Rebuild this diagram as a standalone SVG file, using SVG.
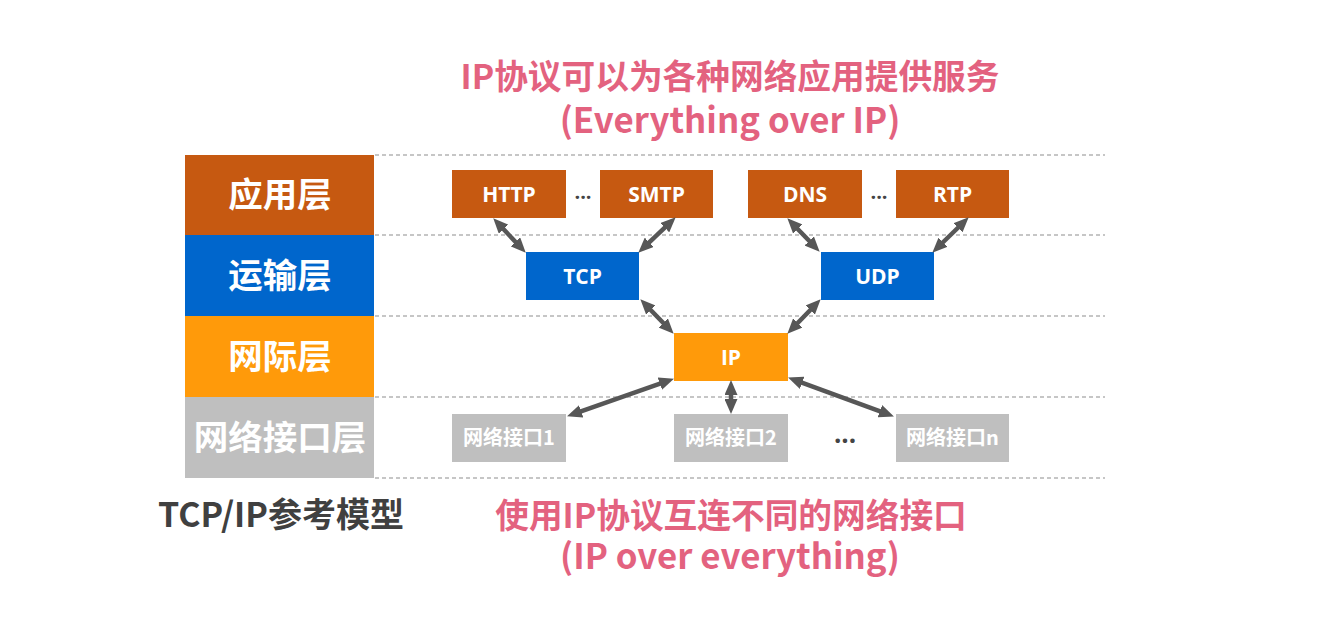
<svg xmlns="http://www.w3.org/2000/svg" width="1340" height="629" viewBox="0 0 1340 629">
<style>
.cjk{font-family:"Noto Sans CJK SC","Noto Sans",sans-serif;font-weight:bold}
.lat{font-family:"Open Sans","Noto Sans",sans-serif;font-weight:bold}
.layer{font-size:34.5px;fill:#fff;text-anchor:middle}
.title{font-size:33.7px;fill:#E3627F;text-anchor:middle}
.sub{font-size:34.8px}
.box{font-size:21px;fill:#fff;text-anchor:middle}
.nif{font-size:20px;fill:#fff;text-anchor:middle}
.dash{stroke:#b4b4b4;stroke-width:1.3;stroke-dasharray:4 3;fill:none}
.arr{stroke:#575757;stroke-width:4.5;fill:none;marker-start:url(#ah);marker-end:url(#ah)}
.dots{font-size:20px;fill:#444;text-anchor:middle}
</style>
<defs>
<marker id="ah" viewBox="0 0 15 13" refX="4" refY="6.5" markerWidth="15" markerHeight="13" markerUnits="userSpaceOnUse" orient="auto-start-reverse">
<path d="M0,0 L15,6.5 L0,13 z" fill="#575757"/>
</marker>
</defs>
<rect width="1340" height="629" fill="#fff"/>

<g id="guides">
<line class="dash" x1="375" y1="155" x2="1105" y2="155"/>
<line class="dash" x1="375" y1="235" x2="1105" y2="235"/>
<line class="dash" x1="375" y1="316" x2="1105" y2="316"/>
<line class="dash" x1="375" y1="397" x2="1105" y2="397"/>
<line class="dash" x1="375" y1="478" x2="1105" y2="478"/>
</g>

<g id="layer-app"><rect x="185" y="155" width="189" height="80" fill="#C65911"/><text class="cjk layer" x="280" y="207">应用层</text></g>
<g id="layer-transport"><rect x="185" y="235" width="189" height="81" fill="#0066CC"/><text class="cjk layer" x="280" y="288">运输层</text></g>
<g id="layer-internet"><rect x="185" y="316" width="189" height="81" fill="#FF9A0A"/><text class="cjk layer" x="280" y="369">网际层</text></g>
<g id="layer-link"><rect x="185" y="397" width="189" height="81" fill="#BFBFBF"/><text class="cjk layer" x="280" y="450">网络接口层</text></g>

<g id="title-top">
<text class="cjk title" x="730" y="89">IP协议可以为各种网络应用提供服务</text>
<text class="cjk title sub" x="730" y="133">(Everything over IP)</text>
</g>

<g id="http"><rect x="452" y="170" width="114" height="48" fill="#C65911"/><text class="lat box" x="509" y="202">HTTP</text></g>
<text class="lat dots" x="583" y="199">...</text>
<g id="smtp"><rect x="600" y="170" width="113" height="48" fill="#C65911"/><text class="lat box" x="656.5" y="202">SMTP</text></g>
<g id="dns"><rect x="748" y="170" width="114" height="48" fill="#C65911"/><text class="lat box" x="805" y="202">DNS</text></g>
<text class="lat dots" x="879" y="199">...</text>
<g id="rtp"><rect x="896" y="170" width="113" height="48" fill="#C65911"/><text class="lat box" x="952.5" y="202">RTP</text></g>

<g id="tcp"><rect x="526" y="252" width="113" height="48" fill="#0066CC"/><text class="lat box" x="582.5" y="284">TCP</text></g>
<g id="udp"><rect x="821" y="252" width="113" height="48" fill="#0066CC"/><text class="lat box" x="877.5" y="284">UDP</text></g>

<g id="ip"><rect x="674" y="333" width="114" height="48" fill="#FF9A0A"/><text class="lat box" x="731" y="365">IP</text></g>

<g id="nif1"><rect x="452" y="414" width="114" height="48" fill="#BFBFBF"/><text class="cjk nif" x="509" y="445">网络接口1</text></g>
<g id="nif2"><rect x="674" y="414" width="114" height="48" fill="#BFBFBF"/><text class="cjk nif" x="731" y="445">网络接口2</text></g>
<text class="lat dots" x="845" y="443" style="font-size:26px">...</text>
<g id="nifn"><rect x="896" y="414" width="113" height="48" fill="#BFBFBF"/><text class="cjk nif" x="952.5" y="445">网络接口n</text></g>

<g id="connectors">
<line class="arr" x1="500.8" y1="226.3" x2="518.2" y2="244.7"/>
<line class="arr" x1="667.7" y1="224.9" x2="646.3" y2="245.1"/>
<line class="arr" x1="795" y1="226.2" x2="812" y2="243.8"/>
<line class="arr" x1="960.8" y1="225" x2="940.2" y2="245"/>
<line class="arr" x1="648" y1="307.2" x2="666" y2="325.8"/>
<line class="arr" x1="813" y1="307.2" x2="795" y2="325.8"/>
<line class="arr" x1="663.6" y1="382.3" x2="577.4" y2="412.7"/>
<line class="arr" x1="731" y1="391" x2="731" y2="403"/>
<line class="arr" x1="798.4" y1="381.4" x2="883.6" y2="412.6"/>
</g>

<g id="caption">
<text class="cjk" x="281" y="527" style="font-size:34px;fill:#404040;text-anchor:middle">TCP/IP参考模型</text>
</g>

<g id="title-bottom">
<text class="cjk title" x="731" y="528">使用IP协议互连不同的网络接口</text>
<text class="cjk title sub" x="730" y="569">(IP over everything)</text>
</g>
</svg>
